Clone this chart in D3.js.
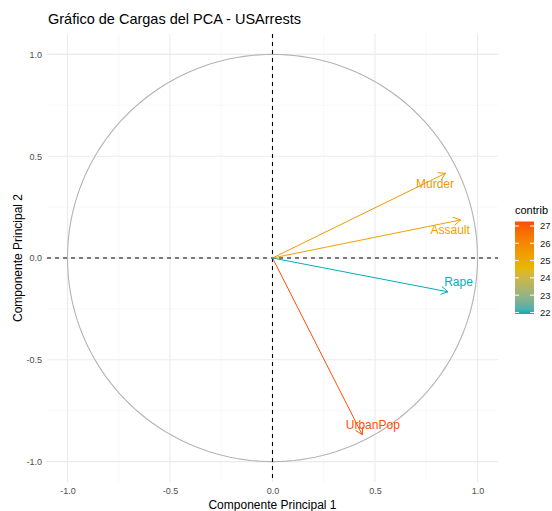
<!DOCTYPE html>
<html><head><meta charset="utf-8">
<script src="https://cdn.jsdelivr.net/npm/d3@7"></script>
<style>body{margin:0;background:#fff;} text{font-family:"Liberation Sans",Arial,sans-serif;}</style>
</head><body>
<svg id="c" width="552" height="511"></svg>
<script>
// Data
const variables = ["Murder", "Assault", "UrbanPop", "Rape"];
const pc1 = [0.844, 0.918, 0.438, 0.856];
const pc2 = [0.416, 0.187, -0.868, -0.166];
const contrib = [25.52, 25.31, 27.26, 21.91];
const tickValues = [-1.0, -0.5, 0.0, 0.5, 1.0];
const legendTicks = [22, 23, 24, 25, 26, 27];
const gradientColors = ["#00AFBB", "#E7B800", "#FC4E07"];

const svg = d3.select("#c");
const panel = {l: 47, r: 498, t: 34, b: 482};

const x = d3.scaleLinear().domain([-1.1, 1.1]).range([panel.l, panel.r]);
const y = d3.scaleLinear().domain([-1.1, 1.1]).range([panel.b, panel.t]);

const cmin = d3.min(contrib), cmax = d3.max(contrib);
const color = d3.scaleLinear()
  .domain([cmin, (cmin + cmax) / 2, cmax])
  .range(gradientColors)
  .interpolate(d3.interpolateLab);

// Grid
const minor = [-0.75, -0.25, 0.25, 0.75];
const g = svg.append("g");
minor.forEach(v => {
  g.append("line").attr("x1", x(v)).attr("x2", x(v)).attr("y1", panel.t).attr("y2", panel.b)
    .attr("stroke", "#F3F3F3").attr("stroke-width", 0.6);
  g.append("line").attr("y1", y(v)).attr("y2", y(v)).attr("x1", panel.l).attr("x2", panel.r)
    .attr("stroke", "#F3F3F3").attr("stroke-width", 0.6);
});
tickValues.forEach(v => {
  g.append("line").attr("x1", x(v)).attr("x2", x(v)).attr("y1", panel.t).attr("y2", panel.b)
    .attr("stroke", "#EBEBEB").attr("stroke-width", 1.1);
  g.append("line").attr("y1", y(v)).attr("y2", y(v)).attr("x1", panel.l).attr("x2", panel.r)
    .attr("stroke", "#EBEBEB").attr("stroke-width", 1.1);
});

// Axes tick labels
const fmt = d => d3.format(".1f")(d).replace("−", "-");
const xAxis = d3.axisBottom(x).tickValues(tickValues).tickFormat(fmt).tickSize(0).tickPadding(4);
const xa = svg.append("g").attr("transform", `translate(0,${panel.b + 2})`).call(xAxis);
const yAxis = d3.axisLeft(y).tickValues(tickValues).tickFormat(fmt).tickSize(0).tickPadding(4);
const ya = svg.append("g").attr("transform", `translate(${panel.l - 1},0)`).call(yAxis);
[xa, ya].forEach(a => {
  a.select(".domain").remove();
  a.selectAll("text").attr("fill", "#4D4D4D").style("font-size", "9px").style("font-family", "Liberation Sans, Arial, sans-serif");
});

// Circle
const circ = d3.range(0, 361, 2).map(a => [Math.cos(a * Math.PI / 180), Math.sin(a * Math.PI / 180)]);
svg.append("path").datum(circ)
  .attr("d", d3.line().x(d => x(d[0])).y(d => y(d[1])))
  .attr("fill", "none").attr("stroke", "#B3B3B3").attr("stroke-width", 1.1);

// Dashed zero lines
svg.append("line").attr("x1", panel.l).attr("x2", panel.r).attr("y1", y(0)).attr("y2", y(0))
  .attr("stroke", "#000").attr("stroke-width", 1.1).attr("stroke-dasharray", "4,4");
svg.append("line").attr("x1", x(0)).attr("x2", x(0)).attr("y1", panel.t).attr("y2", panel.b)
  .attr("stroke", "#000").attr("stroke-width", 1.1).attr("stroke-dasharray", "4,4");

// Arrows
const data = variables.map((v, i) => ({name: v, x: pc1[i], y: pc2[i], c: contrib[i]}));
const ah = 8, ang = Math.PI / 6;
data.forEach(d => {
  const col = color(d.c);
  const x0 = x(0), y0 = y(0), x1 = x(d.x), y1 = y(d.y);
  const th = Math.atan2(y1 - y0, x1 - x0);
  svg.append("line").attr("x1", x0).attr("y1", y0).attr("x2", x1).attr("y2", y1)
    .attr("stroke", col).attr("stroke-width", 1.0);
  const p1 = [x1 - ah * Math.cos(th - ang), y1 - ah * Math.sin(th - ang)];
  const p2 = [x1 - ah * Math.cos(th + ang), y1 - ah * Math.sin(th + ang)];
  svg.append("path").attr("d", `M${p1[0]},${p1[1]}L${x1},${y1}L${p2[0]},${p2[1]}`)
    .attr("fill", "none").attr("stroke", col).attr("stroke-width", 1.0);
  const s = d.y >= 0 ? 1 : -1;
  svg.append("text").attr("x", x1 - s * 10.5).attr("y", y1 + s * 10.5 + (s < 0 ? 1 : 0))
    .attr("text-anchor", "middle").attr("dominant-baseline", "central")
    .attr("fill", col).style("font-size", "12px").text(d.name);
});

// Titles
svg.append("text").attr("x", 48).attr("y", 24).style("font-size", "14.5px").attr("fill", "#000")
  .text("Gráfico de Cargas del PCA - USArrests");
svg.append("text").attr("x", x(0)).attr("y", 509).attr("text-anchor", "middle")
  .style("font-size", "12px").attr("fill", "#000").text("Componente Principal 1");
svg.append("text").attr("transform", `translate(22,${y(0)}) rotate(-90)`).attr("text-anchor", "middle")
  .style("font-size", "12px").attr("fill", "#000").text("Componente Principal 2");

// Legend
const lg = svg.append("g");
const ly = d3.scaleLinear().domain([cmin, cmax]).range([314, 221.5]);
const defs = svg.append("defs");
const grad = defs.append("linearGradient").attr("id", "lgd").attr("x1", 0).attr("x2", 0).attr("y1", 1).attr("y2", 0);
d3.range(0, 1.0001, 0.05).forEach(t => {
  grad.append("stop").attr("offset", t).attr("stop-color", color(cmin + t * (cmax - cmin)));
});
const bx = 515, bw = 19;
lg.append("rect").attr("x", bx).attr("y", ly(cmax)).attr("width", bw).attr("height", ly(cmin) - ly(cmax))
  .attr("fill", "url(#lgd)");
legendTicks.forEach(t => {
  lg.append("line").attr("x1", bx).attr("x2", bx + 4).attr("y1", ly(t)).attr("y2", ly(t)).attr("stroke", "#fff").attr("stroke-width", 1);
  lg.append("line").attr("x1", bx + bw - 4).attr("x2", bx + bw).attr("y1", ly(t)).attr("y2", ly(t)).attr("stroke", "#fff").attr("stroke-width", 1);
  lg.append("text").attr("x", 540).attr("y", ly(t)).attr("dominant-baseline", "central")
    .style("font-size", "9.5px").attr("fill", "#1A1A1A").text(t);
});
lg.append("text").attr("x", 515).attr("y", 214).style("font-size", "11px").attr("fill", "#000").text("contrib");
</script>
</body></html>
